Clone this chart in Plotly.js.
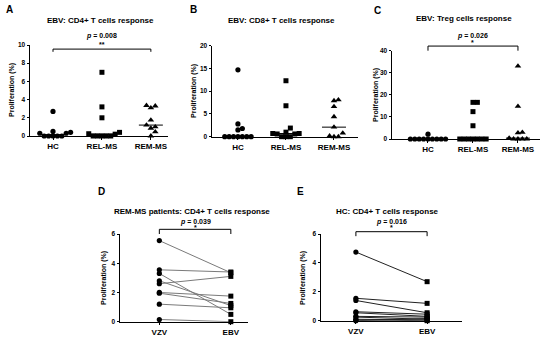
<!DOCTYPE html>
<html><head><meta charset="utf-8">
<script src="https://cdn.plot.ly/plotly-3.0.1.min.js"></script>
<style>html,body{margin:0;padding:0;background:#fff}#chart{width:550px;height:338px}</style>
</head><body><div id="chart"></div>
<script>
// ---------- data ----------
const groups = ['HC', 'REL-MS', 'REM-MS'];
const cd4_HC  = [0.5, 0.3, 0, 0, 0, 0, 0, 0.3, 0.4, 2.7];
const cd4_REL = [0.4, 0.2, 0, 0, 0, 0, 0, 0.25, 7.0, 3.2, 2.0];
const cd4_REM = [3.3, 3.1, 3.35, 1.75, 1.0, 0.85, 1.2, 0.45, 0];
const cd8_HC  = [14.7, 2.8, 1.8, 1.5, 0, 0, 0, 0, 0, 0, 0];
const cd8_REL = [12.3, 6.8, 1.9, 1.0, 0.6, 0, 0, 0, 0.6, 0.7, 0.7];
const cd8_REM = [7.9, 8.1, 6.6, 4.4, 2.1, 0.15, 0, 0, 0.8];
const treg_HC  = [2.2, 0, 0, 0, 0, 0, 0, 0, 0, 0];
const treg_REL = [16.6, 16.6, 12.4, 6.0, 0, 0, 0, 0, 0, 0, 0];
const treg_REM = [33, 14.8, 3.0, 2.8, 0.4, 0, 0, 0, 0];
const pairLabels = ['VZV', 'EBV'];
const remVZV = [5.55, 3.55, 3.3, 2.8, 2.6, 2.0, 1.95, 1.2, 0.15];
const remEBV = [3.35, 3.4, 0.5, 1.1, 3.1, 1.75, 1.25, 0.95, 0];
const hcVZV = [4.75, 1.55, 1.4, 0.62, 0.55, 0.3, 0.25, 0.1, 0.05, 0];
const hcEBV = [2.7, 1.2, 0.55, 0.45, 0.3, 0.25, 0.1, 0.05, 0, 0.15];
const pValues = ['0.008', '0.026', '0.039', '0.016'];
const yTicksA = [0, 2, 4, 6, 8, 10];
const yTicksB = [0, 5, 10, 15, 20];
const yTicksC = [0, 10, 20, 30, 40];
const yTicksDE = [0, 2, 4, 6];

// ---------- layout helpers ----------
const W = 550, H = 338;
const FONT = 'Liberation Sans, Arial, sans-serif';
const BLACK = 'rgb(0,0,0)';
// pixel boxes [left, right, top, bottom], and axis ranges
const panels = {
  A: {box: [30, 168, 45, 136], xr: [-0.47, 2.35], yr: [0, 10], ax: ''},
  B: {box: [212, 358, 45.7, 136.7], xr: [-0.54, 2.5], yr: [0, 20], ax: '2'},
  C: {box: [392, 540, 50.7, 139], xr: [-0.8, 2.49], yr: [0, 40], ax: '3'},
  D: {box: [120, 248, 234, 321.7], xr: [-0.55, 1.24], yr: [0, 6], ax: '4'},
  E: {box: [321, 462, 234, 320.7], xr: [-0.49, 1.49], yr: [0, 6], ax: '5'}
};
function pxX(p) { return (p.box[1] - p.box[0]) / (p.xr[1] - p.xr[0]); }
function pxY(p) { return (p.box[3] - p.box[2]) / (p.yr[1] - p.yr[0]); }
function paperX(p, xv) { return (p.box[0] + (xv - p.xr[0]) * pxX(p)) / W; }
function paperY(p, yv) { return 1 - (p.box[3] - (yv - p.yr[0]) * pxY(p)) / H; }

function swarm(vals, pY, pX, s) {
  const idx = vals.map((v, i) => i).sort((a, b) => vals[a] - vals[b]);
  const placed = [];
  const off = new Array(vals.length).fill(0);
  for (const i of idx) {
    const yp = vals[i] * pY;
    for (let k = 0; k < 100; k++) {
      const m = Math.ceil(k / 2);
      const cand = k === 0 ? 0 : (k % 2 === 1 ? m : -m) * s;
      const ok = placed.every(p => Math.abs(p.y - yp) >= s || Math.abs(p.x - cand) >= s * 0.99);
      if (ok) { placed.push({x: cand, y: yp}); off[i] = cand / pX; break; }
    }
  }
  return off;
}
function median(a) {
  const s = a.slice().sort((x, y) => x - y);
  const n = s.length;
  return n % 2 ? s[(n - 1) / 2] : (s[n / 2 - 1] + s[n / 2]) / 2;
}

const traces = [];
const symbols = ['circle', 'square', 'triangle-up'];
const sizes = [5.2, 5, 5.8];
function dotPanel(p, sets) {
  const pX = pxX(p), pY = pxY(p);
  sets.forEach((vals, g) => {
    const off = swarm(vals, pY, pX, 4.4);
    traces.push({
      type: 'scatter', mode: 'markers', xaxis: 'x' + p.ax, yaxis: 'y' + p.ax,
      x: vals.map((v, i) => g + off[i]), y: vals, cliponaxis: false,
      marker: {symbol: symbols[g], size: sizes[g], color: BLACK, line: {width: 0}}, hoverinfo: 'y'
    });
    const m = median(vals);
    const half = 12 / pX;
    traces.push({
      type: 'scatter', mode: 'lines', xaxis: 'x' + p.ax, yaxis: 'y' + p.ax,
      x: [g - half, g + half], y: [m, m], cliponaxis: false,
      line: {color: BLACK, width: 1}, hoverinfo: 'skip'
    });
  });
}
dotPanel(panels.A, [cd4_HC, cd4_REL, cd4_REM]);
dotPanel(panels.B, [cd8_HC, cd8_REL, cd8_REM]);
dotPanel(panels.C, [treg_HC, treg_REL, treg_REM]);

function pairPanel(p, a, b, lineColor) {
  a.forEach((v, i) => {
    traces.push({
      type: 'scatter', mode: 'lines', xaxis: 'x' + p.ax, yaxis: 'y' + p.ax,
      x: [0, 1], y: [v, b[i]], cliponaxis: false,
      line: {color: lineColor, width: 1}, hoverinfo: 'skip'
    });
  });
  traces.push({
    type: 'scatter', mode: 'markers', xaxis: 'x' + p.ax, yaxis: 'y' + p.ax,
    x: a.map(() => 0), y: a, cliponaxis: false,
    marker: {symbol: 'circle', size: 5.2, color: BLACK, line: {width: 0}}, hoverinfo: 'y'
  });
  traces.push({
    type: 'scatter', mode: 'markers', xaxis: 'x' + p.ax, yaxis: 'y' + p.ax,
    x: b.map(() => 1), y: b, cliponaxis: false,
    marker: {symbol: 'square', size: 5, color: BLACK, line: {width: 0}}, hoverinfo: 'y'
  });
}
pairPanel(panels.D, remVZV, remEBV, '#7a7a7a');
pairPanel(panels.E, hcVZV, hcEBV, '#222');

const layout = {
  width: W, height: H, margin: {l: 0, r: 0, t: 0, b: 0},
  paper_bgcolor: '#fff', plot_bgcolor: '#fff', showlegend: false,
  font: {family: FONT, color: BLACK, size: 7},
  annotations: [], shapes: []
};
function axisStyle() {
  return {
    showline: true, linecolor: BLACK, linewidth: 1, ticks: 'outside', ticklen: 2.5,
    tickwidth: 1, tickcolor: BLACK, showgrid: false, zeroline: false, fixedrange: true
  };
}
const tickSets = {A: yTicksA, B: yTicksB, C: yTicksC, D: yTicksDE, E: yTicksDE};
Object.keys(panels).forEach(k => {
  const p = panels[k];
  const isPair = (k === 'D' || k === 'E');
  const xa = Object.assign(axisStyle(), {
    domain: [p.box[0] / W, p.box[1] / W], range: p.xr, anchor: 'y' + p.ax,
    tickvals: isPair ? [0, 1] : [0, 1, 2], ticktext: isPair ? pairLabels : groups,
    tickfont: {family: FONT, size: 8, color: BLACK, weight: 'bold'}
  });
  const ya = Object.assign(axisStyle(), {
    domain: [1 - p.box[3] / H, 1 - p.box[2] / H], range: p.yr, anchor: 'x' + p.ax,
    tickvals: tickSets[k], tickfont: {family: FONT, size: 6.5, color: BLACK, weight: 'bold'}
  });
  layout['xaxis' + p.ax] = xa;
  layout['yaxis' + p.ax] = ya;
});

function ann(text, xpx, ypx, size, extra) {
  layout.annotations.push(Object.assign({
    text: text, x: xpx / W, y: 1 - ypx / H, xref: 'paper', yref: 'paper',
    showarrow: false, xanchor: 'center', yanchor: 'middle',
    font: {family: FONT, size: size, color: BLACK, weight: 'bold'}
  }, extra || {}));
}
// panel letters
ann('A', 9, 9, 10); ann('B', 193, 9, 10); ann('C', 377, 10, 10);
ann('D', 101, 191, 10); ann('E', 300, 191, 10);
// titles
ann('EBV: CD4+ T cells response', 100, 21, 8);
ann('EBV: CD8+ T cells response', 281, 21, 8);
ann('EBV: Treg cells response', 464, 18, 8);
ann('REM-MS patients: CD4+ T cells response', 192, 211, 8);
ann('HC: CD4+ T cells response', 387, 211, 8);
// y titles
const ytitle = 'Proliferation (%)';
ann(ytitle, 12, 90, 7, {textangle: -90});
ann(ytitle, 194, 91, 7, {textangle: -90});
ann(ytitle, 376, 95, 7, {textangle: -90});
ann(ytitle, 104, 278, 7, {textangle: -90});
ann(ytitle, 303, 278, 7, {textangle: -90});

// significance brackets (converted to paper coords so they are not clipped)
function bracket(p, x0, x1, yTop, yEnd, pVal, stars, yP, yS) {
  const X0 = paperX(p, x0), X1 = paperX(p, x1);
  const YT = paperY(p, yTop), YE = paperY(p, yEnd);
  layout.shapes.push({
    type: 'path', xref: 'paper', yref: 'paper',
    path: `M ${X0},${YE} L ${X0},${YT} L ${X1},${YT} L ${X1},${YE}`,
    line: {color: BLACK, width: 1}
  });
  const xm = (X0 + X1) / 2;
  const f = {family: FONT, size: 7, color: BLACK, weight: 'bold'};
  layout.annotations.push({
    text: '<i>p</i> = ' + pVal, x: xm, y: paperY(p, yP), xref: 'paper', yref: 'paper',
    showarrow: false, xanchor: 'center', yanchor: 'middle', font: f
  });
  layout.annotations.push({
    text: stars, x: xm, y: paperY(p, yS), xref: 'paper', yref: 'paper', showarrow: false,
    xanchor: 'center', yanchor: 'middle', font: f
  });
}
bracket(panels.A, 0, 2, 9.55, 9.25, pValues[0], '**', 10.95, 10.05);
bracket(panels.C, 0, 2, 42.1, 40, pValues[1], '*', 46.8, 43.5);
bracket(panels.D, 0, 1, 6.32, 6.0, pValues[2], '*', 6.8, 6.42);
bracket(panels.E, 0, 1, 6.16, 5.85, pValues[3], '*', 6.8, 6.42);

Plotly.newPlot('chart', traces, layout, {staticPlot: true, displayModeBar: false});
</script>
</body></html>
